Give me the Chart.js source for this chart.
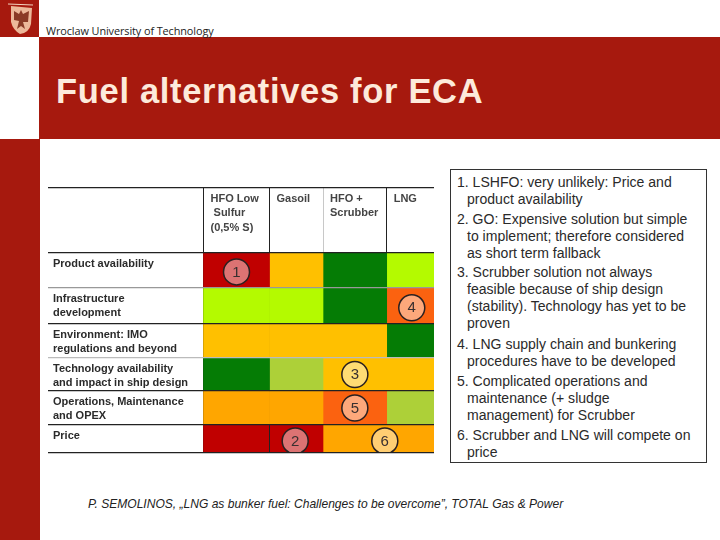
<!DOCTYPE html>
<html><head><meta charset="utf-8">
<script src="https://cdn.jsdelivr.net/npm/chart.js@4"></script>
<style>
html,body{margin:0;padding:0;background:#fff;width:720px;height:540px;overflow:hidden}
#slide{position:relative;width:720px;height:540px;font-family:"Liberation Sans",Arial,sans-serif}
.r{position:absolute;background:#a6190e}
#uni{position:absolute;left:46px;top:23px;font:10.9px "Open Sans",sans-serif;color:#222;white-space:nowrap;letter-spacing:-.1px}
#title{position:absolute;left:56px;top:72px;font:bold 34.5px "Liberation Sans";letter-spacing:.68px;color:#fdeadb;white-space:nowrap}
#box{position:absolute;left:450px;top:169px;width:255px;height:292px;border:1.5px solid #333;background:#fff;box-sizing:content-box}
.n{position:absolute;font-size:14.05px;color:#2a2a2a;white-space:nowrap;line-height:17px}
#cap{position:absolute;left:88px;top:497px;font:italic 12.05px "Liberation Sans";color:#222;white-space:nowrap}
canvas{position:absolute;left:0;top:0}
</style></head><body>
<div id="slide">
<div class="r" style="left:0;top:0;width:39px;height:37px"></div>
<svg style="position:absolute;left:6px;top:2px" width="30" height="34" viewBox="0 0 30 34">
<path d="M2 2 L27 3" stroke="#f3d3bf" stroke-width="1" fill="none"/>
<path d="M5 4 L26 6 L25 22 Q23 31 14 32 Q7 28 5 20 Z" fill="#ecb89a"/>
<path d="M15 8 L17 12 L23 9 L22 20 L17 20 L19 27 L15 24 L11 27 L13 19 L8 18 L8 9 L13 12 Z" fill="#8a3a26"/>
</svg>
<div class="r" style="left:39px;top:37px;width:681px;height:102px"></div>
<div class="r" style="left:0;top:139px;width:40px;height:401px"></div>
<div id="uni">Wroclaw University of Technology</div>
<div id="title">Fuel alternatives for ECA</div>
<div id="box"></div>
<div id="notes"></div>
<div id="cap">P. SEMOLINOS, „LNG as bunker fuel: Challenges to be overcome”, TOTAL Gas &amp; Power</div>
<canvas id="c" width="720" height="540"></canvas>
</div>
<script>
const fuels = [["HFO Low"," Sulfur","(0,5% S)"],["Gasoil"],["HFO +","Scrubber"],["LNG"]];
const criteria = [["Product availability"],["Infrastructure","development"],["Environment: IMO","regulations and beyond"],["Technology availability","and impact in ship design"],["Operations, Maintenance","and OPEX"],["Price"]];
// rating per criterion: 1 worst ... 7 best
const lowSulfur = [1,6,4,7,3,1];
const gasoil    = [4,6,4,5,3,1];
const scrubber  = [7,7,4,4,2,3];
const lng       = [6,2,7,4,5,3];
const ratingColors = {1:"#c00000",2:"#fb6210",3:"#ffa600",4:"#ffc000",5:"#add038",6:"#b4fa00",7:"#057c05"};
const noteNumbers = [1,2,3,4,5,6];
const noteCols = [1.5,2.48,3.5,4.53,3.5,3.97];
const noteRows = [1.54,6.57,4.5,2.55,5.5,6.57];
const noteLines = [
 ["1. LSHFO: very unlikely: Price and",457,174],["product availability",467,190.5],
 ["2. GO: Expensive solution but simple",457,211],["to implement; therefore considered",467,228],["as short term fallback",467,245],
 ["3. Scrubber solution not always",457,264],["feasible because of ship design",467,281],["(stability). Technology has yet to be",467,298],["proven",467,315],
 ["4. LNG supply chain and bunkering",457,336],["procedures have to be developed",467,353],
 ["5. Complicated operations and",457,373],["maintenance (+ sludge",467,390],["management) for Scrubber",467,407],
 ["6. Scrubber and LNG will compete on",457,427],["price",467,444]];
const notesEl=document.getElementById('notes');
noteLines.forEach(([t,x,y])=>{const d=document.createElement('div');d.className='n';d.textContent=t;d.style.left=x+'px';d.style.top=y+'px';notesEl.appendChild(d);});

class TableScale extends Chart.LinearScale{
  getPixelForValue(v){
    const w=this.options.weights, tot=w.reduce((a,b)=>a+b,0);
    const span=this.isHorizontal()?this.width:this.height, o=this.isHorizontal()?this.left:this.top;
    let acc=0,i=0;
    const f=Math.floor(v);
    for(i=0;i<f&&i<w.length;i++)acc+=w[i];
    if(i<w.length)acc+=w[i]*(v-f);
    return o+acc/tot*span;
  }
}
TableScale.id='table';TableScale.defaults={};
Chart.register(TableScale);

const colW=[155.5,66,53.5,63.7,47.3];
const rowH=[65,35,36,34,33,34,28];
const col=(vals,i)=>({type:'bar',order:2,grouped:false,barThickness:colW[i+1],borderWidth:0,
  data:vals.map((v,j)=>({x:i+1.5,y:[j+1,j+2]})),
  backgroundColor:vals.map(v=>ratingColors[v])});

const textPlugin={id:'tablePlugin',afterDraw(ch){
  const c=ch.ctx,x=ch.scales.x,y=ch.scales.y;
  c.save();
  c.strokeStyle="#222";c.lineWidth=1;c.beginPath();
  c.moveTo(x.getPixelForValue(2),y.getPixelForValue(6));c.lineTo(x.getPixelForValue(2),y.getPixelForValue(7));c.stroke();
  c.textBaseline='middle';c.textAlign='left';
  c.font='bold 11px "Liberation Sans"';c.fillStyle="#2b2b2b";
  criteria.forEach((ls,j)=>ls.forEach((t,k)=>c.fillText(t,x.getPixelForValue(0)+5,y.getPixelForValue(j+1)+11+k*13.7)));
  c.fillStyle="#444";
  fuels.forEach((ls,i)=>ls.forEach((t,k)=>c.fillText(t,x.getPixelForValue(i+1)+7,y.getPixelForValue(0)+10.5+k*14.7)));
  c.font='15px "Liberation Sans"';c.textAlign='center';c.fillStyle="#3a3030";
  ch.getDatasetMeta(4).data.forEach((p,i)=>c.fillText(String(noteNumbers[i]),p.x,p.y+.5));
  c.restore();
}};

new Chart(document.getElementById('c'),{
  data:{datasets:[col(lowSulfur,0),col(gasoil,1),col(scrubber,2),col(lng,3),
    {type:'scatter',order:1,data:noteNumbers.map((n,i)=>({x:noteCols[i],y:noteRows[i]})),
     pointRadius:13,pointHoverRadius:13,pointBorderWidth:1.5,pointBorderColor:"#2a2020",pointBackgroundColor:"rgba(255,255,255,.45)"}]},
  options:{responsive:false,animation:false,devicePixelRatio:1,
    layout:{padding:{left:48,top:188,right:286,bottom:87}},
    plugins:{legend:{display:false},tooltip:{enabled:false},title:{display:false}},
    scales:{
      x:{type:'table',weights:colW,min:0,max:5,offset:false,position:'bottom',ticks:{display:false,stepSize:1},border:{display:false},
        grid:{offset:false,drawTicks:false,z:-1,lineWidth:1,color:c=>["rgba(0,0,0,0)","#222","#222","#c8c8c8","#222","rgba(0,0,0,0)"][c.index]}},
      y:{type:'table',weights:rowH,min:0,max:7,position:'left',ticks:{display:false,stepSize:1},border:{display:false},
        grid:{drawTicks:false,z:1,lineWidth:1.2,color:c=>["#222","#222","#999","#222","#bbb","#222","#222","#222"][c.index]}}
    }},
  plugins:[textPlugin]
});
</script>
</body></html>
